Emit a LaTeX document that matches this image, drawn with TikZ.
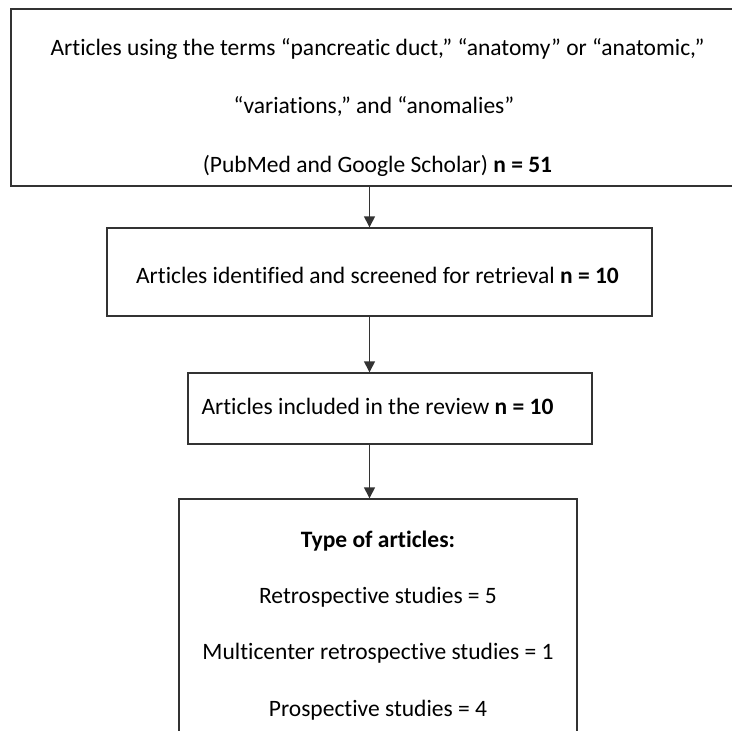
\documentclass[tikz,border=0pt]{standalone}
\usepackage{fontspec}
\setmainfont[Ligatures={NoCommon}]{Carlito}
\usetikzlibrary{arrows.meta}
\begin{document}
\begin{tikzpicture}[x=1pt,y=-1pt,
  box/.style={draw=black!80,line width=1.4pt,fill=none,inner sep=0pt},
  lbl/.style={anchor=base,inner sep=0pt,font=\fontsize{23.5}{28}\selectfont,text=black},
  arr/.style={draw=black!80,line width=1.4pt,-{Triangle[width=11pt,length=11pt]}}]
\useasboundingbox[fill=white] (0,0) rectangle (732,731);
% boxes
\node[box,minimum width=749pt,minimum height=177pt] (b1) at (385.5,97.5) {};
\node[box,minimum width=545pt,minimum height=88pt] (b2) at (379.5,272) {};
\node[box,minimum width=404pt,minimum height=71pt] (b3) at (390,408.5) {};
\node[box,minimum width=398pt,minimum height=281pt] (b4) at (378,639.5) {};
% texts
\node[lbl] (t1a) at (377.5,55) {Articles using the terms “pancreatic duct,” “anatomy” or “anatomic,”};
\node[lbl] (t1b) at (374,113) {“variations,” and “anomalies”};
\node[lbl] (t1c) at (377.5,172) {(PubMed and Google Scholar) \textbf{n = 51}};
\node[lbl] (t2) at (377.5,283) {Articles identified and screened for retrieval \textbf{n = 10}};
\node[lbl] (t3) at (377.5,414) {Articles included in the review \textbf{n = 10}};
\node[lbl] (t4a) at (378,547) {\textbf{Type of articles:}};
\node[lbl] (t4b) at (378,603) {Retrospective studies = 5};
\node[lbl] (t4c) at (378,659) {Multicenter retrospective studies = 1};
\node[lbl] (t4d) at (378,716) {Prospective studies = 4};
% arrows
\coordinate (ax) at (369.5,0);
\draw[arr] (b1.south -| ax) -- (b2.north -| ax);
\draw[arr] (b2.south -| ax) -- (b3.north -| ax);
\draw[arr] (b3.south -| ax) -- (b4.north -| ax);
\end{tikzpicture}
\end{document}
